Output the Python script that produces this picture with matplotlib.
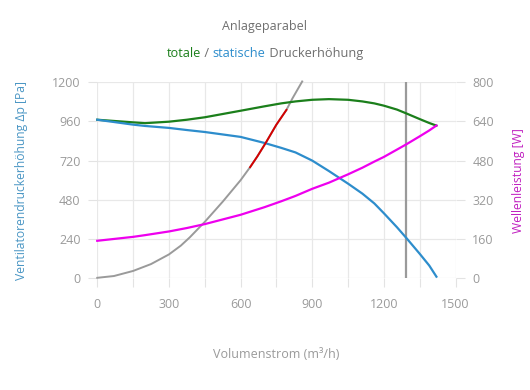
import matplotlib
matplotlib.use('Agg')
import matplotlib.pyplot as plt

plt.rcParams['font.family'] = ['Open Sans', 'DejaVu Sans']

# Volumenstrom (m3/h) der Kennlinien
q = [0, 150, 200, 300, 375, 450, 600, 700, 770, 830, 900, 970, 1050, 1110,
     1160, 1200, 1255, 1295, 1350, 1390, 1420]
# statische Druckerhoehung (Pa)
p_stat = [970, 940, 932, 920, 907, 895, 865, 828, 798, 770, 720, 656, 579, 518,
          458, 398, 312, 245, 150, 78, 10]
# totale Druckerhoehung (Pa)
p_tot = [970, 954, 949, 958, 970, 985, 1025, 1052, 1070, 1082, 1092, 1096, 1092, 1082,
         1070, 1056, 1032, 1008, 974, 950, 934]
# Wellenleistung (W)
leistung = [153, 169, 176, 191, 205, 221, 259, 290, 314, 336, 365, 390, 424, 451,
            476, 495, 525, 547, 579, 603, 623]

# Anlageparabel
q_anl = [0, 70, 150, 225, 300, 350, 387, 450, 526, 600, 640, 670, 706, 750, 792, 817, 858]
p_anl = [3, 14, 45, 87, 146, 200, 250, 345, 470, 600, 680, 745, 830, 940, 1030, 1100, 1204]
# Betriebsbereich (rot)
q_rot = [640, 670, 706, 750, 792]
p_rot = [680, 745, 830, 940, 1030]

q_linie = 1293

grau = '#9a9a9a'
gruen = '#1b7f1b'
blau = '#2d8dcc'
magenta = '#ee00ee'

fig = plt.figure(figsize=(5.3, 3.9), dpi=100)
ax = fig.add_axes([0.1835, 0.2864, 0.676, 0.503])
ax2 = ax.twinx()

ax.plot(q_anl, p_anl, color=grau, lw=1.4, zorder=3, clip_on=False)
ax.plot(q_rot, p_rot, color='#d40000', lw=1.4, zorder=4, clip_on=False)
ax.plot(q, p_tot, color=gruen, lw=1.6, zorder=3, clip_on=False)
ax.plot(q, p_stat, color=blau, lw=1.6, zorder=3, clip_on=False)
ax.axvline(q_linie, color=grau, lw=1.6, zorder=2)
ax2.plot(q, leistung, color=magenta, lw=1.6, clip_on=False)

ax.set_xlim(0, 1500)
ax.set_ylim(0, 1200)
ax2.set_ylim(0, 800)

ax.set_xticks(range(0, 1501, 150))
ax.set_xticklabels([str(v) if v % 300 == 0 else '' for v in range(0, 1501, 150)])
ax.set_yticks(range(0, 1201, 240))
ax2.set_yticks(range(0, 801, 160))

for a in (ax, ax2):
    for s in a.spines.values():
        s.set_visible(False)
    a.tick_params(colors='#e3e3e3', labelcolor=grau, labelsize=9, length=6.5, width=0.8, pad=5.5)
ax.grid(True, color='#e8e8e8', lw=0.9)
ax.set_axisbelow(True)
ax.tick_params(axis='x', pad=8)

ax.set_ylabel('Ventilatorendruckerhöhung Δp [Pa]', color='#4a96c4', fontsize=8.7, labelpad=17)
ax2.set_ylabel('Wellenleistung [W]', color='#c020c0', fontsize=8.7, labelpad=13)
ax.set_xlabel('Volumenstrom (m³/h)', color=grau, fontsize=9, labelpad=26)

fig.text(0.5, 0.933, 'Anlageparabel', ha='center', va='center', color='#6e6e6e', fontsize=9)

# zweifarbiger Untertitel
teile = [('totale', gruen), (' / ', '#6e6e6e'), ('statische', blau), (' Druckerhöhung', '#6e6e6e')]
texte = [fig.text(0, 0.863, t, color=c, fontsize=9.2, va='center') for t, c in teile]
fig.canvas.draw()
r = fig.canvas.get_renderer()
breiten = [t.get_window_extent(r).width for t in texte]
x0 = (fig.bbox.width - sum(breiten)) / 2
for t, b in zip(texte, breiten):
    t.set_x(x0 / fig.bbox.width)
    x0 += b

fig.savefig('out.png', dpi=100)
